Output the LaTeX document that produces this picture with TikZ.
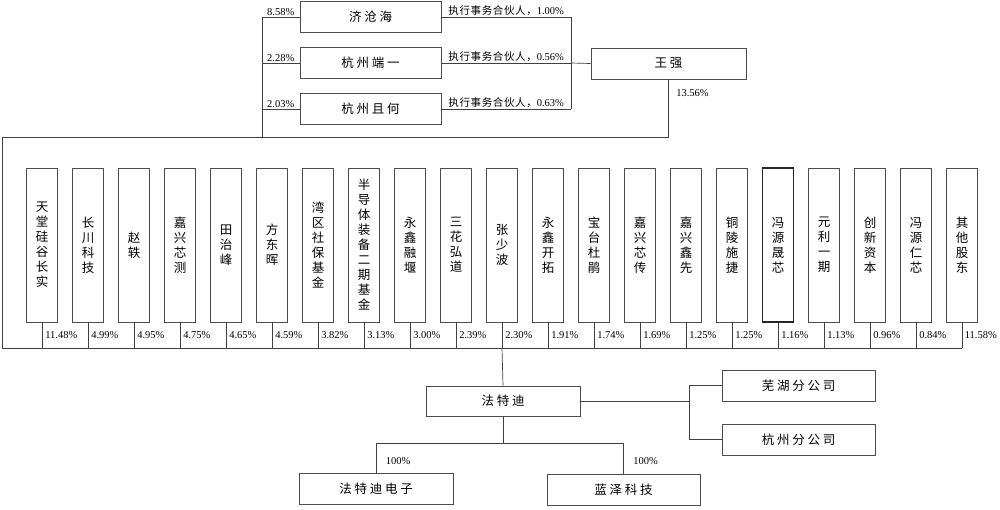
\documentclass[tikz,border=0pt]{standalone}
\usepackage{fontspec}
\setmainfont{Liberation Serif}
\newfontfamily\cjk{Noto Sans CJK SC}[LetterSpace=6]
\newfontfamily\cjkbox{Noto Sans CJK SC}[LetterSpace=22]
\usepackage{tikz}
\usetikzlibrary{positioning, calc}

\begin{document}
\begin{tikzpicture}[
		x=1pt, y=-1pt,
		box/.style={draw=black!70, line width=0.8pt, inner sep=0pt, minimum width=141pt, minimum height=31pt, font=\cjkbox\fontsize{12.5}{15}\selectfont},
		vbox/.style={box, minimum width=31pt, minimum height=154pt, align=center},
		pct/.style={font=\fontsize{10.5}{12}\selectfont, inner sep=1.5pt},
		link/.style={draw=black!75, line width=0.7pt}
	]
		\useasboundingbox (0,0) rectangle (1000,509);

		% ===== TOP: partnerships and Wang Qiang =====
		\node[box] (jch) at (370.5,17) {济沧海};
		\node[box] (hzdy) at (370.5,63) {杭州端一};
		\node[box] (hzqh) at (370.5,109) {杭州且何};
		\node[box, minimum width=155pt] (wq) at (668.5,63.5) {王强};

		% Bus lines of the partnerships
		\coordinate (lbT) at (262,17);
		\coordinate (lbB) at (262,137);
		\coordinate (rbT) at (571,17);
		\coordinate (busTL) at (2,137);
		\coordinate (busL) at (2,348);
		\coordinate (busR) at (962,348);

		\draw[link] (lbT) -- (lbB);
		\draw[link] (lbT) -- (jch.west) node[pct, midway, above] {8.58\%};
		\draw[link] (hzdy.west -| lbT) -- (hzdy.west) node[pct, midway, above] {2.28\%};
		\draw[link] (hzqh.west -| lbT) -- (hzqh.west) node[pct, midway, above] {2.03\%};

		\draw[link] (jch.east) -- (jch.east -| rbT) node[pct, midway, above] {{\cjk 执行事务合伙人，}1.00\%};
		\draw[link] (hzdy.east) -- (hzdy.east -| rbT) node[pct, midway, above] {{\cjk 执行事务合伙人，}0.56\%};
		\draw[link] (hzqh.east) -- (hzqh.east -| rbT) node[pct, midway, above] {{\cjk 执行事务合伙人，}0.63\%};
		\draw[link] (rbT) -- (hzqh.east -| rbT);
		\draw[link] (hzdy.east -| rbT) -- (wq.west);

		% Wang Qiang down to the shareholder bus
		\draw[link] (wq.south) |- (busTL) node[pct, pos=0.12, right, xshift=6pt] {13.56\%} -- (busL) -- (busR);

		% ===== MIDDLE: shareholders =====
		\node[vbox] (s1) at (42,245) {天\\堂\\硅\\谷\\长\\实};
		\node[vbox] (s2) at (88,245) {长\\川\\科\\技};
		\node[vbox] (s3) at (134,245) {赵\\轶};
		\node[vbox] (s4) at (180,245) {嘉\\兴\\芯\\测};
		\node[vbox] (s5) at (226,245) {田\\治\\峰};
		\node[vbox] (s6) at (272,245) {方\\东\\晖};
		\node[vbox] (s7) at (318,245) {湾\\区\\社\\保\\基\\金};
		\node[vbox] (s8) at (364,245) {半\\导\\体\\装\\备\\二\\期\\基\\金};
		\node[vbox] (s9) at (410,245) {永\\鑫\\融\\堰};
		\node[vbox] (s10) at (456,245) {三\\花\\弘\\道};
		\node[vbox] (s11) at (502,245) {张\\少\\波};
		\node[vbox] (s12) at (548,245) {永\\鑫\\开\\拓};
		\node[vbox] (s13) at (594,245) {宝\\台\\杜\\鹃};
		\node[vbox] (s14) at (640,245) {嘉\\兴\\芯\\传};
		\node[vbox] (s15) at (686,245) {嘉\\兴\\鑫\\先};
		\node[vbox] (s16) at (732,245) {铜\\陵\\施\\捷};
		\node[vbox, line width=1.2pt, draw=black!85] (s17) at (778,245) {冯\\源\\晟\\芯};
		\node[vbox] (s18) at (824,245) {元\\利\\一\\期};
		\node[vbox] (s19) at (870,245) {创\\新\\资\\本};
		\node[vbox] (s20) at (916,245) {冯\\源\\仁\\芯};
		\node[vbox] (s21) at (962,245) {其\\他\\股\\东};

		% Shareholding links
		\draw[link] (s1.south) -- (s1.south |- busL) node[pct, midway, right, xshift=1.5pt] {11.48\%};
		\draw[link] (s2.south) -- (s2.south |- busL) node[pct, midway, right, xshift=1.5pt] {4.99\%};
		\draw[link] (s3.south) -- (s3.south |- busL) node[pct, midway, right, xshift=1.5pt] {4.95\%};
		\draw[link] (s4.south) -- (s4.south |- busL) node[pct, midway, right, xshift=1.5pt] {4.75\%};
		\draw[link] (s5.south) -- (s5.south |- busL) node[pct, midway, right, xshift=1.5pt] {4.65\%};
		\draw[link] (s6.south) -- (s6.south |- busL) node[pct, midway, right, xshift=1.5pt] {4.59\%};
		\draw[link] (s7.south) -- (s7.south |- busL) node[pct, midway, right, xshift=1.5pt] {3.82\%};
		\draw[link] (s8.south) -- (s8.south |- busL) node[pct, midway, right, xshift=1.5pt] {3.13\%};
		\draw[link] (s9.south) -- (s9.south |- busL) node[pct, midway, right, xshift=1.5pt] {3.00\%};
		\draw[link] (s10.south) -- (s10.south |- busL) node[pct, midway, right, xshift=1.5pt] {2.39\%};
		\draw[link] (s11.south) -- (s11.south |- busL) node[pct, midway, right, xshift=1.5pt] {2.30\%};
		\draw[link] (s12.south) -- (s12.south |- busL) node[pct, midway, right, xshift=1.5pt] {1.91\%};
		\draw[link] (s13.south) -- (s13.south |- busL) node[pct, midway, right, xshift=1.5pt] {1.74\%};
		\draw[link] (s14.south) -- (s14.south |- busL) node[pct, midway, right, xshift=1.5pt] {1.69\%};
		\draw[link] (s15.south) -- (s15.south |- busL) node[pct, midway, right, xshift=1.5pt] {1.25\%};
		\draw[link] (s16.south) -- (s16.south |- busL) node[pct, midway, right, xshift=1.5pt] {1.25\%};
		\draw[link] (s17.south) -- (s17.south |- busL) node[pct, midway, right, xshift=1.5pt] {1.16\%};
		\draw[link] (s18.south) -- (s18.south |- busL) node[pct, midway, right, xshift=1.5pt] {1.13\%};
		\draw[link] (s19.south) -- (s19.south |- busL) node[pct, midway, right, xshift=1.5pt] {0.96\%};
		\draw[link] (s20.south) -- (s20.south |- busL) node[pct, midway, right, xshift=1.5pt] {0.84\%};
		\draw[link] (s21.south) -- (s21.south |- busL) node[pct, midway, right, xshift=1pt] {11.58\%};

		% ===== BOTTOM: Fatedi and its units =====
		\node[box, minimum width=154pt, minimum height=30pt] (ftd) at (503,401) {法特迪};
		\draw[link] (s11.south |- busL) -- (ftd.north);

		% Branch offices
		\node[box, minimum width=153pt] (whfgs) at (798.5,385.5) {芜湖分公司};
		\node[box, minimum width=153pt] (hzfgs) at (798.5,439.5) {杭州分公司};
		\coordinate (brX) at (689,401);
		\draw[link] (ftd.east) -- (brX);
		\draw[link] (whfgs.west) -| (brX) |- (hzfgs.west);

		% Subsidiaries
		\node[box, minimum width=154pt] (ftdz) at (376,488.5) {法特迪电子};
		\node[box, minimum width=153pt] (lzkj) at (623.5,489.5) {蓝泽科技};
		\draw[link] (ftd.south) -- ++(0,27) coordinate (fork);
		\draw[link] (fork) -| (ftdz.north) node[pct, pos=0.8, right, xshift=8pt] {100\%};
		\draw[link] (fork) -| (lzkj.north) node[pct, pos=0.8, right, xshift=8pt] {100\%};
\end{tikzpicture}
\end{document}
